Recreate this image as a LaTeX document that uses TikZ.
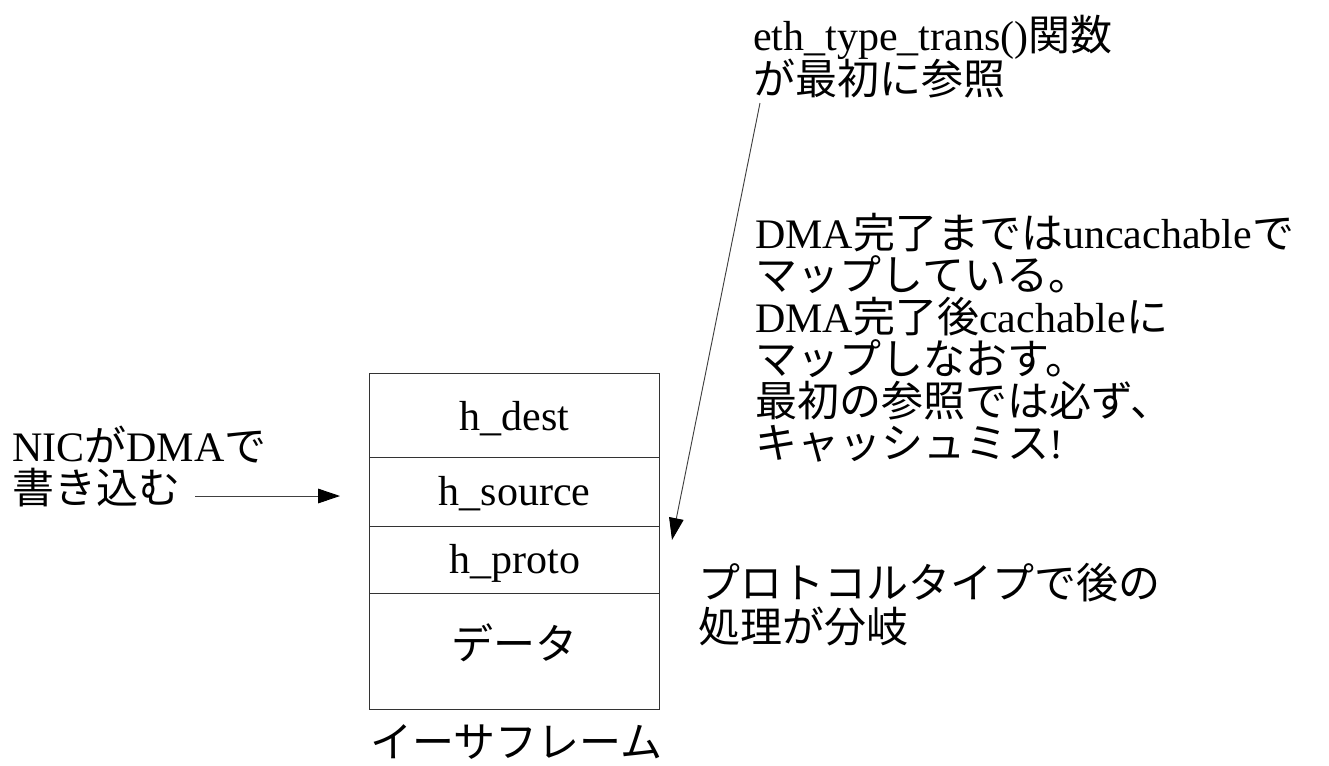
\documentclass[tikz,border=0pt]{standalone}
\usepackage{fontspec}
\setmainfont{Liberation Serif}
\newfontfamily\jp{Noto Sans CJK JP}
\usetikzlibrary{arrows.meta}
\newcommand\J[1]{{\jp #1}}
\begin{document}
\begin{tikzpicture}[x=0.75pt,y=-0.75pt,
  txt/.style={inner sep=0pt,anchor=base west,font=\fontsize{31.5}{31.5}\selectfont},
  row/.style={draw=black!80,line width=1.1pt,minimum width=217.5pt,inner sep=0pt,
    anchor=north west,font=\fontsize{31.5}{31.5}\selectfont,
    text height=22pt,text depth=1.75pt},
  arr/.style={-{Triangle[length=16.5pt,width=11pt,black]},line width=0.7pt,draw=black!75}
]
\useasboundingbox (0,0) rectangle (1329,765);
% frame rows
\node[row,minimum height=63pt,text height=24pt,text depth=1.5pt] (dest) at (369,373) {h\_dest};
\node[row,minimum height=51.75pt] (src) at (369,457) {h\_source};
\node[row,minimum height=50.25pt] (proto) at (369,526) {h\_proto};
\node[row,minimum height=87pt,text height=14pt,text depth=2pt] (data) at (369,593) {\J{データ}};
\node[txt] (cap) at (370,757) {\J{イーサフレーム}};
% left annotation
\node[txt] (nic1) at (12,461) {NIC\J{が}DMA\J{で}};
\node[txt] (nic2) at (12,503) {\J{書き込む}};
% top annotation
\node[txt] (eth1) at (753,50) {eth\_type\_trans()\J{関数}};
\node[txt] (eth2) at (753,94) {\J{が最初に参照}};
% right annotation
\node[txt] (r1) at (755,248) {DMA\J{完了までは}uncachable\J{で}};
\node[txt] (r2) at (755,290) {\J{マップしている。}};
\node[txt] (r3) at (755,332) {DMA\J{完了後}cachable\J{に}};
\node[txt] (r4) at (755,374) {\J{マップしなおす。}};
\node[txt] (r5) at (755,416) {\J{最初の参照では必ず、}};
\node[txt] (r6) at (755,458) {\J{キャッシュミス}!};
% protocol annotation
\node[txt] (p1) at (698,598) {\J{プロトコルタイプで後の}};
\node[txt] (p2) at (698,642) {\J{処理が分岐}};
% arrows
\coordinate (s1) at (195,496);
\coordinate (e1) at (340,496);
\draw[arr] (s1) -- (e1);
\coordinate (s2) at (760,103);
\coordinate (e2) at (672,540);
\draw[arr] (s2) -- (e2);
\end{tikzpicture}
\end{document}
